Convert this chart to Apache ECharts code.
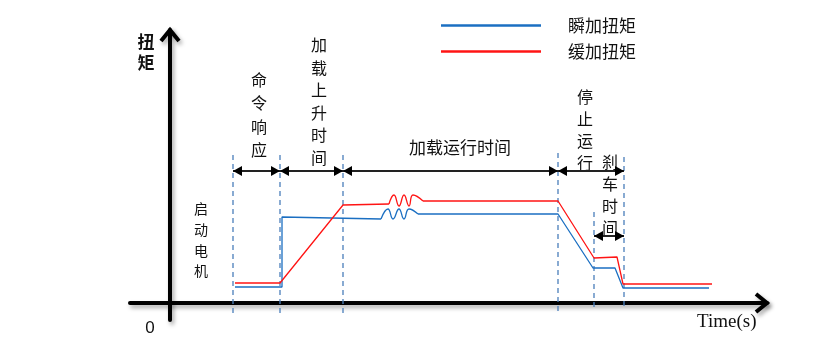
<!DOCTYPE html>
<html><head><meta charset="utf-8">
<script src="https://cdn.jsdelivr.net/npm/echarts@6/dist/echarts.min.js"></script>
<style>html,body{margin:0;padding:0;background:#fff}#c{width:828px;height:352px}</style>
</head><body><div id="c"></div>
<script>
// ---- data (time units on x, torque units on y) ----
const seriesNames = ['瞬加扭矩', '缓加扭矩'];
const instantMain = [[6.5,1.6],[11.2,1.6],[11.2,8.6],[21.1,8.4]];
const instantWave = [[21.1,8.4],[21.8,9.4],[22.3,8.4],[22.9,9.4],[23.4,8.4],[23.9,9.4],[24.8,8.9]];
const instantTail = [[24.8,8.9],[38.8,8.9],[42.3,3.5],[44.5,3.5],[45.3,1.5],[53.9,1.5]];
const gradualMain = [[6.5,2.0],[11.0,2.0],[17.3,9.8],[21.9,9.9]];
const gradualWave = [[21.9,9.9],[22.4,10.8],[22.9,9.7],[23.4,10.8],[23.9,9.7],[24.3,10.8],[25.3,10.2]];
const gradualTail = [[25.3,10.2],[38.8,10.2],[42.4,4.5],[44.7,4.6],[45.3,1.9],[54.2,1.9]];
const dividerX = [6.3, 11.0, 17.3, 38.8, 42.4, 45.4];
const dividerTop = [14.8, 14.8, 14.8, 15.0, 9.1, 14.6];
const dividerBottom = [-1.0, -1.0, -1.0, -1.0, -0.7, -0.7];
const spanStart = [6.3, 11.0, 17.3, 38.8, 42.4];
const spanEnd = [11.0, 17.3, 38.8, 45.4, 45.4];
const spanLevel = [13.2, 13.2, 13.2, 13.2, 6.7];
const xRange = [-4, 59.7];
const yRange = [-1.7, 27.3];

const BLUE = '#1b6fc2', RED = '#ff1414';
const CJK = '"Noto Sans CJK SC", "Noto Sans", sans-serif';

const chart = echarts.init(document.getElementById('c'), null, {renderer: 'canvas'});

const dividerData = dividerX.map((x, i) => [x, dividerTop[i], dividerBottom[i]]);
const spanData = spanStart.map((s, i) => [s, spanEnd[i], spanLevel[i]]);
const arrowData = [[xRange[1], 0, 0], [0, yRange[1], 1]];

function lineSeries(name, data, color, smooth) {
  return {
    name, type: 'line', data, smooth: smooth || false, symbol: 'none', showSymbol: false,
    lineStyle: {color, width: 1.3}, itemStyle: {color}, z: 3, silent: true, animation: false
  };
}

const shadow = {shadowColor: 'rgba(0,0,0,0.35)', shadowBlur: 4, shadowOffsetX: 2, shadowOffsetY: 3};
const axisLineStyle = Object.assign({color: '#000', width: 4}, shadow);

function vtext(text, x, top, size, lh, bold) {
  return {type: 'text', x, y: top, style: {
    text, fill: '#111', fontSize: size, fontFamily: CJK, fontWeight: bold ? 'bold' : 'normal',
    align: 'center', verticalAlign: 'top', lineHeight: lh
  }};
}

const option = {
  animation: false,
  backgroundColor: '#fff',
  grid: {left: 130, right: 61, top: 30, bottom: 32},
  xAxis: {
    type: 'value', min: xRange[0], max: xRange[1],
    axisLine: {show: true, onZero: true, lineStyle: axisLineStyle},
    axisTick: {show: false}, axisLabel: {show: false}, splitLine: {show: false}
  },
  yAxis: {
    type: 'value', min: yRange[0], max: yRange[1],
    axisLine: {show: true, onZero: true, lineStyle: axisLineStyle},
    axisTick: {show: false}, axisLabel: {show: false}, splitLine: {show: false}
  },
  legend: {
    data: seriesNames, orient: 'vertical', left: 441, top: 17, padding: 0,
    icon: 'rect', itemWidth: 100, itemHeight: 2.5, itemGap: 9,
    textStyle: {fontSize: 17, fontFamily: CJK, color: '#111', padding: [0, 0, 0, 22]}
  },
  graphic: [
    vtext('扭\n矩', 146, 31.5, 17, 21, true),
    vtext('命\n令\n响\n应', 259, 68.3, 16, 23.3),
    vtext('加\n载\n上\n升\n时\n间', 319, 33.7, 16, 22.6),
    {type: 'text', x: 460, y: 148, style: {text: '加载运行时间', fill: '#111', fontSize: 17, fontFamily: CJK, align: 'center', verticalAlign: 'middle'}},
    vtext('停\n止\n运\n行', 585, 85.5, 16, 22),
    vtext('刹\n车\n时\n间', 610, 151, 16, 22),
    vtext('启\n动\n电\n机', 201, 198.6, 14, 20.7),
    {type: 'text', x: 150, y: 328, style: {text: '0', fill: '#111', fontSize: 17, fontFamily: 'Liberation Sans, sans-serif', align: 'center', verticalAlign: 'middle'}},
    {type: 'text', x: 697, y: 322, style: {text: 'Time(s)', fill: '#111', fontSize: 19, fontFamily: '"Liberation Serif", serif', align: 'left', verticalAlign: 'middle'}}
  ],
  series: [
    lineSeries(seriesNames[0], instantMain, BLUE),
    lineSeries(seriesNames[0], instantWave, BLUE, 0.5),
    lineSeries(seriesNames[0], instantTail, BLUE),
    lineSeries(seriesNames[1], gradualMain, RED),
    lineSeries(seriesNames[1], gradualWave, RED, 0.5),
    lineSeries(seriesNames[1], gradualTail, RED),
    {
      type: 'custom', data: dividerData, silent: true, clip: false, z: 2,
      renderItem(params, api) {
        const p1 = api.coord([api.value(0), api.value(1)]);
        const p2 = api.coord([api.value(0), api.value(2)]);
        return {type: 'line', shape: {x1: p1[0], y1: p1[1], x2: p2[0], y2: p2[1]},
          style: {stroke: '#4a7ebb', lineWidth: 1.3, lineDash: [5, 4]}};
      }
    },
    {
      type: 'custom', data: spanData, silent: true, clip: false, z: 4,
      renderItem(params, api) {
        const a = api.coord([api.value(0), api.value(2)]);
        const b = api.coord([api.value(1), api.value(2)]);
        const L = 9, H = 5;
        return {type: 'group', children: [
          {type: 'line', shape: {x1: a[0], y1: a[1], x2: b[0], y2: b[1]}, style: {stroke: '#222', lineWidth: 2}},
          {type: 'polygon', shape: {points: [[a[0], a[1]], [a[0] + L, a[1] - H], [a[0] + L, a[1] + H]]}, style: {fill: '#000'}},
          {type: 'polygon', shape: {points: [[b[0], b[1]], [b[0] - L, b[1] - H], [b[0] - L, b[1] + H]]}, style: {fill: '#000'}}
        ]};
      }
    },
    {
      type: 'custom', data: arrowData, silent: true, clip: false, z: 5,
      renderItem(params, api) {
        const p = api.coord([api.value(0), api.value(1)]);
        const pts = api.value(2) === 0
          ? [[p[0] - 11, p[1] - 9], [p[0], p[1]], [p[0] - 11, p[1] + 9]]
          : [[p[0] - 9, p[1] + 11], [p[0], p[1]], [p[0] + 9, p[1] + 11]];
        return {type: 'polyline', shape: {points: pts},
          style: Object.assign({stroke: '#000', lineWidth: 4, fill: null, lineJoin: 'miter', lineCap: 'butt'}, shadow)};
      }
    }
  ]
};
chart.setOption(option);
</script>
</body></html>
